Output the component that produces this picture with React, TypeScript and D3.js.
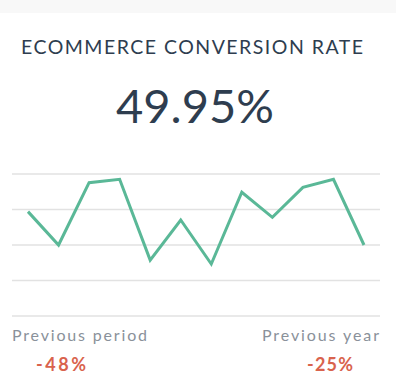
import React from "react";
import * as d3 from "d3";

// sparkline values (one per period)
const periods = ["P1", "P2", "P3", "P4", "P5", "P6", "P7", "P8", "P9", "P10", "P11", "P12"];
const rates = [58.8, 40, 75.1, 77.0, 31.5, 54.1, 29.3, 69.7, 55.6, 72.5, 77.0, 40];
const gridTicks = [0, 20, 40, 60, 80];

const title = "ECOMMERCE CONVERSION RATE";
const headline = "49.95%";
const compareLabels = ["Previous period", "Previous year"];
const compareValues = ["-48%", "-25%"];

const W = 396;
const H = 388;
const FONT = "Lato, 'Open Sans', sans-serif";

const App = () => {
  // chart area
  const xScale = d3.scalePoint<string>().domain(periods).range([28, 364]);
  const yScale = d3.scaleLinear().domain([0, 80]).range([316, 174]);

  const line = d3
    .line<number>()
    .x((d, i) => xScale(periods[i]) as number)
    .y((d) => yScale(d));

  return (
    <svg
      width={W}
      height={H}
      style={{ position: "absolute", top: 0, left: 0, display: "block" }}
    >
      <rect x={0} y={0} width={W} height={H} fill="#ffffff" />
      {/* top strip */}
      <rect x={0} y={0} width={W} height={13} fill="#f8f8f8" />

      <text
        x={21}
        y={54}
        fontFamily={FONT}
        fontSize={19.5}
        fill="#2e3d4f"
        textLength={342}
        lengthAdjust="spacing"
      >
        {title}
      </text>

      <text
        x={195}
        y={123}
        textAnchor="middle"
        fontFamily={FONT}
        fontSize={47}
        fontWeight={400}
        fill="#2e3d4f"
      >
        {headline}
      </text>

      {/* gridlines */}
      {gridTicks.map((t) => (
        <line
          key={t}
          x1={12}
          x2={380}
          y1={yScale(t)}
          y2={yScale(t)}
          stroke="#e2e2e2"
          strokeWidth={1.5}
        />
      ))}

      <path
        d={line(rates) || ""}
        fill="none"
        stroke="#5ab897"
        strokeWidth={3}
        strokeLinejoin="miter"
      />

      {/* comparison footer */}
      <text
        x={12}
        y={341}
        fontFamily={FONT}
        fontSize={16}
        fill="#8a919a"
        textLength={135}
        lengthAdjust="spacing"
      >
        {compareLabels[0]}
      </text>
      <text
        x={262}
        y={341}
        fontFamily={FONT}
        fontSize={16}
        fill="#8a919a"
        textLength={117}
        lengthAdjust="spacing"
      >
        {compareLabels[1]}
      </text>
      <text
        x={36}
        y={371}
        fontFamily={FONT}
        fontSize={18}
        fontWeight={700}
        fill="#d9634d"
        textLength={50}
        lengthAdjust="spacing"
      >
        {compareValues[0]}
      </text>
      <text
        x={307}
        y={371}
        fontFamily={FONT}
        fontSize={18}
        fontWeight={700}
        fill="#d9634d"
        textLength={46}
        lengthAdjust="spacing"
      >
        {compareValues[1]}
      </text>
    </svg>
  );
};

export default App;
